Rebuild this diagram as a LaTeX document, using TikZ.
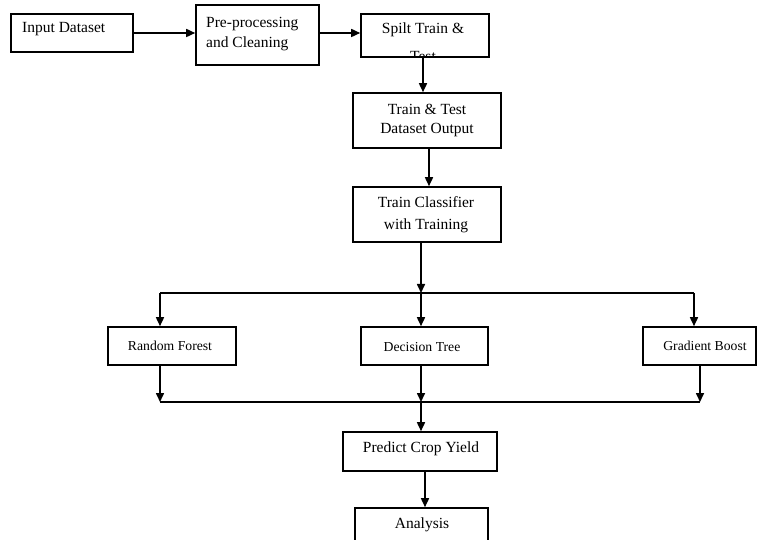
\documentclass[tikz,border=0pt]{standalone}
\usepackage{fontspec}
\setmainfont{Liberation Serif}
\usetikzlibrary{arrows.meta}
\begin{document}
\begin{tikzpicture}[x=1pt,y=-1pt,
  box/.style={draw,line width=1.6pt,rectangle,inner sep=0pt},
  txt/.style={inner sep=0pt,font=\fontsize{15.5}{20}\selectfont},
  smalltxt/.style={inner sep=0pt,font=\fontsize{13.7}{18}\selectfont},
  flow/.style={line width=1.6pt,-{Triangle[length=9pt,width=8pt]}},
  wire/.style={line width=1.6pt}]
\clip (0,0) rectangle (758,540);
\fill[white] (0,0) rectangle (758,540);

% boxes
\node[box,minimum width=122,minimum height=38] (inp) at (72,33) {};
\node[box,minimum width=123,minimum height=60] (pre) at (257.5,35) {};
\node[box,minimum width=128,minimum height=43] (spl) at (425,35.5) {};
\node[box,minimum width=148,minimum height=55] (tto) at (427,120.5) {};
\node[box,minimum width=148,minimum height=55] (tcl) at (427,214.5) {};
\node[box,minimum width=128,minimum height=38] (rf) at (172,346) {};
\node[box,minimum width=127,minimum height=38] (dt) at (424.5,346) {};
\node[box,minimum width=113,minimum height=38] (gb) at (699.5,346) {};
\node[box,minimum width=154,minimum height=39] (pcy) at (420,451.5) {};
\node[box,minimum width=133,minimum height=40] (ana) at (421.5,528) {};

% labels
\node[txt,anchor=base west] (tinp) at (22,33) {Input Dataset};
\node[txt,anchor=base west] (tpre1) at (206,28) {Pre-processing};
\node[txt,anchor=base west] (tpre2) at (206,48) {and Cleaning};
\node[txt,anchor=base] (tspl1) at (423,34) {Spilt Train \&};
% second line runs past the bottom edge and is cut off there
\begin{scope}
  \clip (spl.south west) rectangle (spl.north east);
  \node[txt,anchor=base] (tspl2) at (423,62) {Test};
\end{scope}
\node[txt,anchor=base] (ttto1) at (427,115) {Train \& Test};
\node[txt,anchor=base] (ttto2) at (427,134) {Dataset Output};
\node[txt,anchor=base] (ttcl1) at (426,208) {Train Classifier};
\node[txt,anchor=base] (ttcl2) at (426,230) {with Training};
\node[smalltxt,anchor=base] (trf) at (170,350) {Random Forest};
\node[smalltxt,anchor=base] (tdt) at (422,351.5) {Decision Tree};
\node[smalltxt,anchor=base] (tgb) at (705,350) {Gradient Boost};
\node[txt,anchor=base] (tpcy) at (421,452) {Predict Crop Yield};
\node[txt,anchor=base] (tana) at (422,528) {Analysis};

% routing points
\coordinate (c1) at (423,0);
\coordinate (c2) at (429,0);
\coordinate (c3) at (425,0);
\coordinate (split) at (421,293);
\coordinate (join) at (421,402);
\coordinate (lsplit) at (160,293);
\coordinate (rsplit) at (694,293);
\coordinate (ljoin) at (160,402);
\coordinate (rjoin) at (700,402);

% connectors
\draw[flow] (inp.east) -- (inp.east -| pre.west);
\draw[flow] (pre.east |- inp.east) -- (spl.west |- inp.east);
\draw[flow] (spl.south -| c1) -- (tto.north -| c1);
\draw[flow] (tto.south -| c2) -- (tcl.north -| c2);
\draw[flow] (tcl.south -| split) -- (split);
\draw[wire] (lsplit) -- (rsplit);
\draw[flow] (split) -- (dt.north -| split);
\draw[flow] (lsplit) -- (rf.north -| lsplit);
\draw[flow] (rsplit) -- (gb.north -| rsplit);
\draw[flow] (rf.south -| ljoin) -- (ljoin);
\draw[flow] (dt.south -| join) -- (join);
\draw[flow] (gb.south -| rjoin) -- (rjoin);
\draw[wire] (ljoin) -- (rjoin);
\draw[flow] (join) -- (pcy.north -| join);
\draw[flow] (pcy.south -| c3) -- (ana.north -| c3);
\end{tikzpicture}
\end{document}
